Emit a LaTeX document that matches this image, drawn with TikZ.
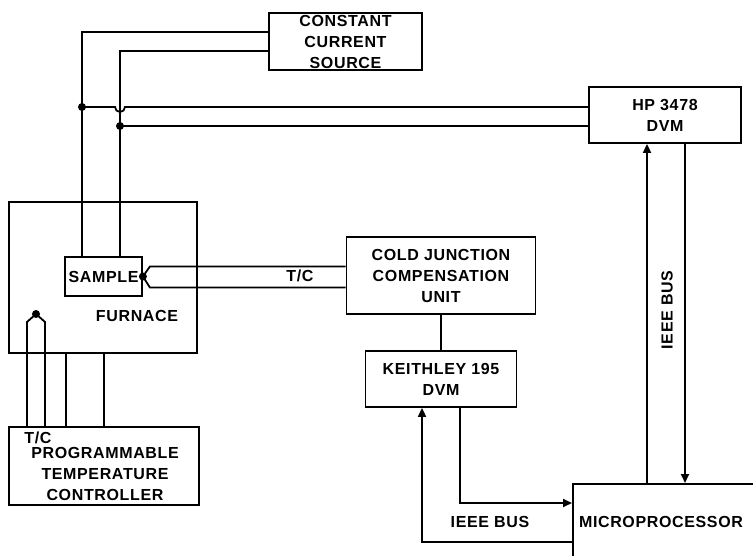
\documentclass[tikz,border=0pt]{standalone}
\usepackage{fontspec}
\setmainfont{Liberation Sans}[LetterSpace=4.0]
\usetikzlibrary{arrows.meta,positioning,calc}

\begin{document}
\begin{tikzpicture}[x=1pt, y=-1pt,
  unit/.style={draw, line width=1.8pt, inner sep=0pt, align=center, font=\fontsize{16}{21}\selectfont\bfseries},
  lbl/.style={inner sep=0pt, align=center, font=\fontsize{16}{21}\selectfont\bfseries},
  wire/.style={line width=1.8pt},
  arr/.style={line width=1.8pt, -{Triangle[length=9pt, width=8pt]}},
  junct/.style={circle, fill, inner sep=0pt, minimum size=8pt}
]
  \useasboundingbox (0,0) rectangle (753,556);
  \clip (0,0) rectangle (753,556);

  % instruments
  \node[unit, minimum width=153pt, minimum height=57pt] (ccs) at (345.5,41.5) {CONSTANT\\CURRENT\\SOURCE};
  \node[unit, minimum width=152pt, minimum height=56pt] (hp) at (665,115) {HP 3478\\DVM};
  \node[unit, minimum width=188pt, minimum height=151pt] (furnace) at (103,277.5) {};
  \node[unit, minimum width=77pt, minimum height=39pt] (sample) at (103.5,276.5) {SAMPLE};
  \node[lbl] (furnacelbl) at (137,316) {FURNACE};
  \node[unit, minimum width=189pt, minimum height=77pt] (cjc) at (441,275.5) {COLD JUNCTION\\COMPENSATION\\UNIT};
  \node[unit, minimum width=151pt, minimum height=56pt] (keith) at (441,379) {KEITHLEY 195\\DVM};
  \node[unit, minimum width=190pt, minimum height=78pt] (ctrl) at (104,466) {};
  \node[lbl] (ctrllbl) at (105,474) {PROGRAMMABLE\\TEMPERATURE\\CONTROLLER};
  \node[lbl] (ctrltc) at (38,438) {T/C};
  \node[unit, minimum width=400pt, minimum height=140pt, anchor=north west] (micro) at (572,483) {};
  \node[lbl] (microlbl) at (661,522) {MICROPROCESSOR};

  % current leads and voltage leads
  \draw[wire] ([yshift=9.5pt]ccs.west) -| ([xshift=-21.5pt]sample.north);
  \draw[wire] ([yshift=-9.5pt]ccs.west) -| ([xshift=16.5pt]sample.north);
  \node[junct] (j1) at (82,107) {};
  \node[junct] (j2) at (120,126) {};
  \draw[wire] (j1.center) -- (115,107) arc (180:0:5) -- (j1.center -| hp.west);
  \draw[wire] (j2.center) -- (j2.center -| hp.west);

  % sample thermocouple
  \node[junct] (tcs) at (sample.east) {};
  \draw[wire] (tcs.center) -- ++(7,-10) coordinate (tca) -- (tca -| cjc.west);
  \draw[wire] (tcs.center) -- ++(7,11) coordinate (tcb) -- (tcb -| cjc.west);
  \node[lbl] (tclbl) at (300,276) {T/C};

  % furnace thermocouple and heater leads
  \node[junct] (tcf) at (36,314) {};
  \draw[wire] (tcf.center) -- ++(-9,8) coordinate (tcl) -- (tcl |- ctrl.north);
  \draw[wire] (tcf.center) -- ++(9,8) coordinate (tcr) -- (tcr |- ctrl.north);
  \coordinate (htra) at ([xshift=-37pt]furnace.south);
  \coordinate (htrb) at ([xshift=1pt]furnace.south);
  \draw[wire] (htra) -- (htra |- ctrl.north);
  \draw[wire] (htrb) -- (htrb |- ctrl.north);

  \draw[wire] (cjc.south) -- (keith.north);

  % IEEE bus
  \draw[arr] ([xshift=19pt]keith.south) |- ([yshift=-20pt]micro.north west);
  \draw[arr] ([yshift=-59pt]micro.north west) -| ([xshift=-19pt]keith.south);
  \node[lbl] (buslow) at (490,522) {IEEE BUS};
  \coordinate (busup) at ([xshift=-18pt]hp.south);
  \coordinate (busdn) at ([xshift=20pt]hp.south);
  \draw[arr] (busup |- micro.north) -- (busup);
  \draw[arr] (busdn) -- (busdn |- micro.north);
  \node[lbl, rotate=90] (busright) at (667,310) {IEEE BUS};
\end{tikzpicture}
\end{document}
